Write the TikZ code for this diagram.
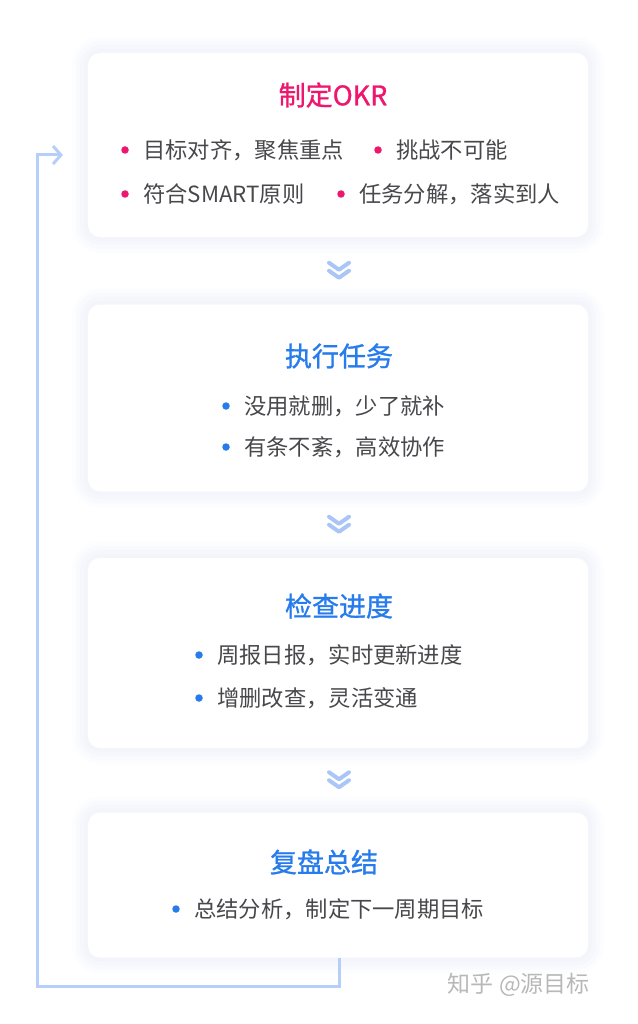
\documentclass[tikz,border=0pt]{standalone}
\usepackage{fontspec}
\newfontfamily\cjk{Noto Sans CJK SC}
\newfontfamily\cjkmid[RawFeature={embolden=1.1}]{Noto Sans CJK SC}
\usetikzlibrary{arrows.meta,calc}
\definecolor{okrpink}{RGB}{238,22,110}
\definecolor{okrblue}{RGB}{38,124,236}
\definecolor{okrtext}{RGB}{72,72,76}
\definecolor{okrline}{RGB}{181,207,248}
\definecolor{okrchev}{RGB}{170,198,246}
\definecolor{okrshade}{RGB}{232,235,246}

\begin{document}
\begin{tikzpicture}[x=1pt,y=-1pt,
    card/.style = {rectangle, rounded corners=12pt, fill=white,% white cards with soft shadow
                   minimum width=500pt, inner sep=0pt,
                   preaction={draw=okrshade, line width=32pt, opacity=.12},
                   preaction={draw=okrshade, line width=24pt, opacity=.15},
                   preaction={draw=okrshade, line width=16pt, opacity=.18},
                   preaction={draw=okrshade, line width=8pt, opacity=.22}},
    ttl/.style  = {font=\cjkmid\fontsize{27}{30}\selectfont, inner sep=0pt},
    dot/.style  = {circle, minimum size=7.5pt, inner sep=0pt},
    item/.style = {anchor=west, font=\cjk\fontsize{22.3}{25}\selectfont,
                   text=okrtext, inner sep=0pt},
    chev/.style = {draw=okrchev, line width=4pt, line cap=round, line join=round},
    back/.style = {draw=okrline, line width=3pt, -{Straight Barb[length=8pt,width=18pt,line width=3pt]}},
                        ]
\useasboundingbox (0,0) rectangle (637,1024);
% cards
\node[card, minimum height=184pt] (plan)   at (338,145) {};
\node[card, minimum height=187pt] (run)    at (338,398) {};
\node[card, minimum height=190pt] (check)  at (338,653) {};
\node[card, minimum height=145pt] (review) at (338,885) {};
% titles
\node[ttl, text=okrpink] (plan-t)   at (333,95)  {制定OKR};
\node[ttl, text=okrblue] (run-t)    at (339,356) {执行任务};
\node[ttl, text=okrblue] (check-t)  at (339,606) {检查进度};
\node[ttl, text=okrblue] (review-t) at (324,862) {复盘总结};
% bullet items
\foreach \nm/\x/\y/\t in {p1/125/150/目标对齐，聚焦重点, p2/378/150/挑战不可能,
                          p3/125/194/符合SMART原则, p4/341/194/任务分解，落实到人}{
    \node[dot, fill=okrpink] (\nm) at (\x,\y) {};
    \node[item] (\nm-t) at ([xshift=18pt]\nm.center) {\t};
}
\foreach \nm/\x/\y/\t in {r1/226/406/没用就删，少了就补, r2/226/447/有条不紊，高效协作,
                          c1/199/655/周报日报，实时更新进度, c2/199/698/增删改查，灵活变通,
                          v1/176/909/总结分析，制定下一周期目标}{
    \node[dot, fill=okrblue] (\nm) at (\x,\y) {};
    \node[item] (\nm-t) at ([xshift=18pt]\nm.center) {\t};
}
% double chevrons between cards
\foreach \a/\b in {plan/run, run/check, check/review}{
    \coordinate (\a-\b) at ($(\a.south)!0.5!(\b.north)+(1,0)$);
    \draw[chev] ([shift={(-10,-8)}]\a-\b) -- ([shift={(0,-1)}]\a-\b) -- ([shift={(10,-8)}]\a-\b);
    \draw[chev] ([shift={(-10,0)}]\a-\b) -- ([shift={(0,7)}]\a-\b) -- ([shift={(10,0)}]\a-\b);
}
% loop back to the first card
\coordinate (loop-end) at (63,155);
\draw[back] ([xshift=1pt]review.south) -- ++(0,29) -| (37,155) -- (loop-end);
% watermark
\node[font=\cjk\fontsize{23}{26}\selectfont, text=black!28, anchor=east, inner sep=0pt] (mark) at (590,985) {知乎 @源目标};
\end{tikzpicture}
\end{document}
